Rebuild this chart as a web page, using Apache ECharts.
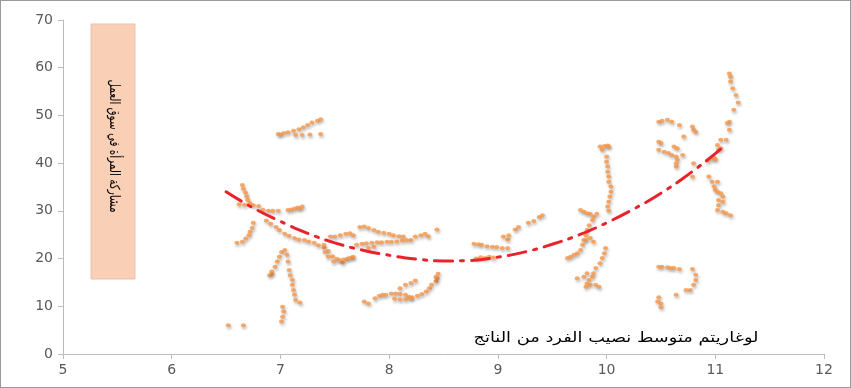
<!DOCTYPE html>
<html>
<head>
<meta charset="utf-8">
<script src="https://cdn.jsdelivr.net/npm/echarts@6/dist/echarts.min.js"></script>
<style>
  html, body { margin: 0; padding: 0; background: #fff; }
  #chart { width: 851px; height: 388px; box-sizing: border-box; border: 1px solid #9a9a9a; }
</style>
</head>
<body>
<div id="chart"></div>
<script>
// Axis ticks
const xTicks = [5, 6, 7, 8, 9, 10, 11, 12];
const yTicks = [0, 10, 20, 30, 40, 50, 60, 70];

const yLabel = "مشاركة المرأة في سوق العمل";
const xLabel = "لوغاريتم متوسط نصيب الفرد من الناتج";

const groupLowLeft = [[6.52, 6], [6.66, 6]];
const groupHook = [
  [6.65, 35.4], [6.66, 34.6], [6.68, 33.8], [6.69, 33], [6.7, 32.3], [6.72, 31.6],
  [6.62, 31.4], [6.67, 31.3], [6.75, 31.2], [6.8, 31]
];
const groupThirty = [
  [6.84, 30.2], [6.89, 30], [6.93, 30], [6.98, 30], [7.07, 30.2], [7.1, 30.3],
  [7.13, 30.5], [7.16, 30.7], [7.2, 30.9], [7.18, 30.5]
];
const groupDescent = [
  [6.87, 28], [6.91, 27.3], [6.96, 26.6], [6.99, 26], [7.04, 25.2], [7.08, 24.8],
  [7.13, 24.3], [7.17, 24], [7.22, 23.9], [7.26, 23.6], [7.31, 23.3], [7.35, 22.8],
  [7.4, 22.3], [7.44, 21.6], [7.48, 20.5], [7.52, 19.9], [7.57, 19.2], [7.61, 19.9], [7.66, 20.2]
];
const groupLeftArm = [
  [6.75, 27.5], [6.74, 26.4], [6.72, 25.6], [6.71, 24.9], [6.68, 24.2], [6.65, 23.5], [6.6, 23.3]
];
const groupSpike = [
  [6.9, 16.5], [6.92, 16.8], [6.92, 17.3], [6.95, 18.3], [6.97, 19.4], [6.99, 20.4], [7.01, 21.4],
  [7.04, 21.8], [7.06, 20.8], [7.07, 19.4], [7.08, 17.6], [7.09, 16.5], [7.11, 15.5],
  [7.11, 14.5], [7.12, 13.4], [7.13, 12.4], [7.14, 11.3], [7.18, 10.8],
  [7.02, 9.9], [7.03, 8.9], [7.02, 7.8], [7.01, 6.8]
];
const groupTop = [
  [6.98, 46.1], [7.0, 46.0], [7.03, 46.3], [7.07, 46.5], [7.12, 46.8], [7.17, 47.1], [7.21, 47.5],
  [7.25, 48.0], [7.29, 48.5], [7.34, 48.9], [7.37, 49.2],
  [7.14, 45.9], [7.2, 45.9], [7.27, 46.0], [7.37, 46.1]
];
const groupMidUpper = [
  [7.73, 26.6], [7.77, 26.7], [7.81, 26.4], [7.86, 26], [7.9, 25.6], [7.95, 25.4], [8.0, 25.2],
  [8.04, 24.9], [8.09, 24.7], [8.13, 24.6], [8.2, 23.9], [8.24, 24.6], [8.29, 24.9],
  [8.33, 25.2], [8.36, 24.7], [8.44, 26.1],
  [7.7, 22.9], [7.75, 23.1], [7.79, 23.2], [7.84, 23.3], [7.89, 23.4], [7.93, 23.4],
  [7.98, 23.5], [8.02, 23.5], [8.07, 23.6], [8.12, 23.8], [8.16, 23.9],
  [7.46, 24.6], [7.5, 24.6], [7.55, 24.9], [7.6, 25.2], [7.64, 25.3], [7.67, 24.9],
  [7.4, 22.9], [7.41, 21.4], [7.44, 20.4], [7.49, 19.4], [7.54, 19.7], [7.58, 19.8],
  [7.63, 20.1], [7.67, 20.4], [7.81, 22.2], [7.86, 22.5]
];
const groupMidLower = [
  [7.77, 11], [7.81, 10.6], [7.87, 11.7], [7.91, 12.2], [7.94, 12.4], [7.97, 12.4], [8.02, 12.7],
  [8.06, 12.7], [8.1, 12.6], [8.15, 12.4], [8.18, 12.0], [8.21, 11.9], [8.26, 12.2], [8.3, 12.6],
  [8.34, 13.1], [8.37, 13.8], [8.39, 14.5], [8.43, 15.2], [8.44, 15.9], [8.45, 16.8],
  [8.1, 13.8], [8.15, 14.5], [8.2, 14.9], [8.24, 15.4], [8.43, 16.2],
  [8.05, 11.6], [8.1, 11.4], [8.15, 11.5], [8.2, 11.7]
];
const groupNine = [
  [8.8, 20], [8.84, 20.3], [8.88, 20.1], [8.92, 20.4], [8.96, 20.2],
  [8.78, 23.1], [8.82, 23], [8.85, 22.9], [8.9, 22.6], [8.95, 22.5], [8.99, 22.4], [9.04, 22.2], [9.09, 22.2],
  [9.05, 24.6], [9.09, 24.0], [9.1, 24.9], [9.16, 26.1], [9.19, 26.6], [9.28, 27.5],
  [9.33, 27.9], [9.38, 28.7], [9.41, 29.1]
];
const groupV = [
  [9.76, 30.2], [9.79, 29.8], [9.82, 29.5], [9.85, 29.4], [9.88, 28.8], [9.91, 29.4],
  [9.87, 28.1], [9.84, 27.0], [9.82, 26.0], [9.81, 24.9], [9.79, 23.9], [9.78, 22.9],
  [9.76, 21.8], [9.73, 21.1], [9.7, 20.8], [9.67, 20.4], [9.64, 20.1],
  [9.81, 23.9], [9.85, 24.3], [9.88, 23.5],
  [9.99, 22.2], [9.98, 21.1], [9.96, 20.1], [9.94, 19.0], [9.9, 18.0], [9.88, 16.9],
  [9.87, 16.2], [9.84, 15.5], [9.82, 14.8], [9.85, 14.5], [9.9, 14.5], [9.93, 14.1],
  [9.73, 15.9], [9.79, 16.2], [9.82, 16.9], [9.81, 14.1]
];
const groupTen = [
  [9.94, 43.5], [9.98, 43.6], [10.01, 43.7], [10.02, 43.5], [9.96, 42.8],
  [10.0, 41.4], [10.0, 40.3], [10.01, 39.3], [10.01, 38.2], [10.02, 37.2], [10.02, 36.1],
  [10.04, 35.1], [10.04, 34.0], [10.03, 33.0], [10.02, 31.9], [10.01, 30.9], [10.02, 30.0]
];
const groupTenHalfLow = [
  [10.48, 18.3], [10.51, 18.3], [10.56, 18.2], [10.59, 18.0], [10.62, 18.0], [10.67, 17.8],
  [10.79, 17.8], [10.82, 16.6], [10.82, 15.5], [10.8, 14.5], [10.77, 13.4], [10.73, 13.4],
  [10.64, 12.4], [10.48, 11.9], [10.47, 11.0], [10.5, 10.6], [10.5, 9.8]
];
const groupTenHalfHigh = [
  [10.48, 48.7], [10.51, 48.9], [10.56, 49.1], [10.6, 48.7], [10.67, 48.0], [10.71, 45.6],
  [10.79, 47.7], [10.8, 47.0], [10.82, 46.6],
  [10.48, 44.5], [10.5, 44.2], [10.48, 42.8], [10.53, 42.4], [10.57, 42.1], [10.6, 41.7],
  [10.64, 41.4], [10.65, 40.7], [10.64, 40.0], [10.64, 39.3],
  [10.62, 43.5], [10.65, 43.1], [10.7, 41.7], [10.8, 40], [10.79, 37.2], [10.94, 37.2]
];
const groupEleven = [
  [11.13, 58.8], [11.14, 58.1], [11.14, 57.1], [11.16, 55.7], [11.19, 54.3], [11.21, 52.7],
  [11.17, 51.2], [11.13, 48.7], [11.11, 48.4], [11.13, 47.0], [11.05, 44.9], [11.1, 44.9],
  [11.02, 43.8], [11.05, 43.1], [11.03, 42.8],
  [10.93, 40.5], [10.96, 40.9], [10.99, 41.2], [11.0, 40.8],
  [10.97, 36.1], [11.02, 36.1], [10.99, 35.1], [11.0, 34.4], [11.02, 34.0], [11.05, 33.7],
  [11.07, 33.0], [11.03, 32.3], [11.07, 31.9], [11.03, 31.2], [11.02, 30.2], [11.07, 29.8],
  [11.1, 29.5], [11.14, 29.1]
];

// Fitted curve
const trendX = [6.5, 6.75, 7.0, 7.25, 7.5, 7.75, 8.0, 8.25, 8.5, 8.75, 9.0, 9.25, 9.5, 9.75, 10.0, 10.25, 10.5, 10.75, 11.0, 11.1];
const trendY = [34.0, 30.6, 27.8, 25.3, 23.3, 21.8, 20.7, 19.9, 19.5, 19.6, 20.3, 21.4, 23.0, 25.0, 27.5, 30.4, 33.7, 37.6, 42.0, 44.0];

const points = [].concat(
  groupLowLeft, groupHook, groupThirty, groupDescent, groupLeftArm, groupSpike, groupTop,
  groupMidUpper, groupMidLower, groupNine, groupV, groupTen, groupTenHalfLow,
  groupTenHalfHigh, groupEleven
);

const chart = echarts.init(document.getElementById("chart"));

const axisGrey = "#bcbcbc";
const labelGrey = "#595959";

chart.setOption({
  animation: false,
  grid: { left: 62, right: 26, top: 19, bottom: 33 },
  xAxis: {
    type: "value",
    min: xTicks[0],
    max: xTicks[xTicks.length - 1],
    interval: 1,
    axisLine: { show: true, lineStyle: { color: axisGrey, width: 1 } },
    axisTick: { show: true, length: 5, lineStyle: { color: axisGrey } },
    axisLabel: { color: labelGrey, fontSize: 14, fontFamily: "DejaVu Sans", margin: 9 },
    splitLine: { show: false }
  },
  yAxis: {
    type: "value",
    min: yTicks[0],
    max: yTicks[yTicks.length - 1],
    interval: 10,
    axisLine: { show: true, lineStyle: { color: axisGrey, width: 1 } },
    axisTick: { show: true, length: 5, lineStyle: { color: axisGrey } },
    axisLabel: { color: labelGrey, fontSize: 14, fontFamily: "DejaVu Sans", margin: 10 },
    splitLine: { show: false }
  },
  series: [
    {
      type: "scatter",
      data: points,
      symbol: "circle",
      symbolSize: [5, 4],
      itemStyle: {
        color: "#f79646",
        shadowColor: "rgba(0,0,0,0.35)",
        shadowBlur: 3,
        shadowOffsetX: 1,
        shadowOffsetY: 2
      },
      z: 2
    },
    {
      type: "line",
      data: trendX.map((x, i) => [x, trendY[i]]),
      smooth: true,
      showSymbol: false,
      lineStyle: { color: "#e8232b", width: 3, type: [18, 8, 3, 8], cap: "round" },
      z: 3
    }
  ],
  graphic: [
    {
      type: "rect",
      shape: { x: 90, y: 23, width: 44, height: 255 },
      style: { fill: "#f9cfb6", stroke: "#e3c3b0", lineWidth: 1 }
    },
    {
      type: "text",
      x: 113,
      y: 145,
      rotation: -Math.PI / 2,
      scaleX: 0.74,
      style: {
        text: yLabel,
        fill: "#000",
        font: "14px 'DejaVu Sans'",
        align: "center",
        verticalAlign: "middle"
      }
    },
    {
      type: "text",
      x: 615,
      y: 337,
      scaleX: 1.27,
      style: {
        text: xLabel,
        fill: "#000",
        font: "14px 'DejaVu Sans'",
        align: "center",
        verticalAlign: "middle"
      }
    }
  ]
});
</script>
</body>
</html>
